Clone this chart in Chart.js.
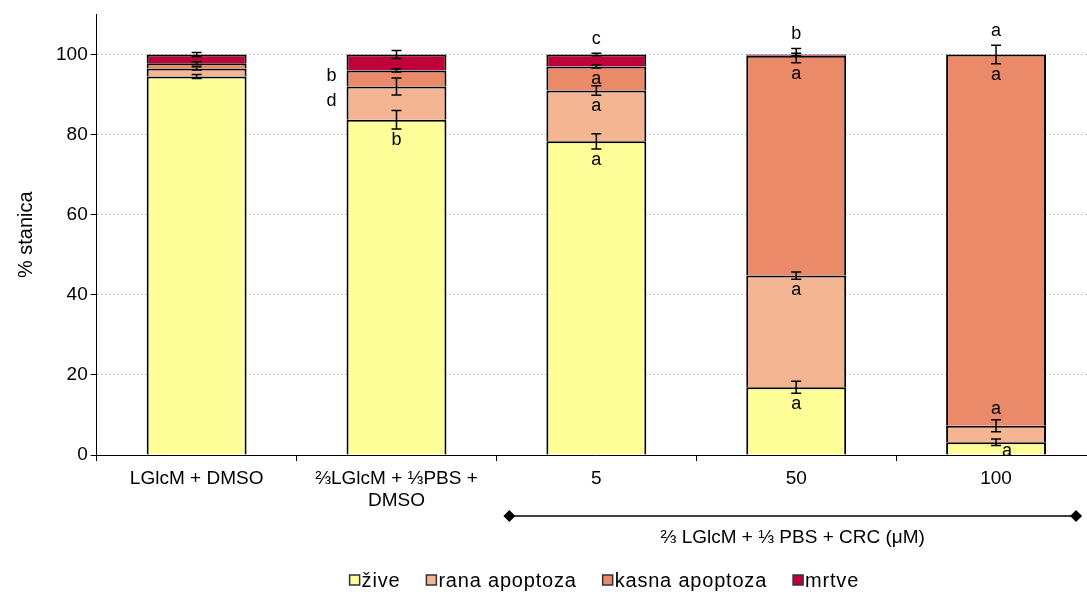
<!DOCTYPE html>
<html>
<head>
<meta charset="utf-8">
<script src="https://cdn.jsdelivr.net/npm/chart.js@4.4.1/dist/chart.umd.min.js"></script>
<style>
  html, body { margin: 0; padding: 0; background: #fff; overflow: hidden; }
  #wrap { width: 1087px; height: 592px; overflow: hidden; }
</style>
</head>
<body>
<div id="wrap"><canvas id="chart" width="1100" height="592"></canvas></div>
<script>
// categories and stacked values (% stanica)
const categories = ['LGlcM + DMSO', ['⅔LGlcM + ⅓PBS +', 'DMSO'], '5', '50', '100'];
const seriesNames = ['žive', 'rana apoptoza', 'kasna apoptoza', 'mrtve'];

const zive  = [94.5, 83.7, 78.3, 16.9, 3.2];
const rana  = [2.0, 8.3, 12.7, 27.9, 4.1];
const kasna = [1.3, 4.0, 6.0, 54.9, 92.7];
const mrtve = [2.2, 4.0, 3.0, 0.3, 0];

// error bars (drawn at the top of each segment)
const ziveErr  = [0.5, 2.3, 1.9, 1.5, 0.8];
const ranaErr  = [0.4, 2.1, 1.2, 0.9, 1.5];
const kasnaErr = [0.4, 0.4, 0.4, 1.8, 2.3];
const mrtveErr = [0.5, 1.0, 0.3, 0.3, 0];

// significance letters
const ziveLetters  = ['', 'b', 'a', 'a', 'a'];
const ranaLetters  = ['', 'd', 'a', 'a', 'a'];
const kasnaLetters = ['', 'b', 'a', 'a', 'a'];
const mrtveLetters = ['', '', 'c', 'b', 'a'];

const yTicks = [0, 20, 40, 60, 80, 100];
const groupLabel = '⅔ LGlcM + ⅓ PBS + CRC (μM)';

// where each letter sits relative to its segment
const letterPlace = [
    ['', 'below', 'below', 'below', 'right'],
    ['', 'left', 'below', 'below', 'above'],
    ['', 'left', 'below', 'below', 'below'],
    ['', '', 'above', 'above', 'above']
];

const values = [zive, rana, kasna, mrtve];
const errors = [ziveErr, ranaErr, kasnaErr, mrtveErr];
const letters = [ziveLetters, ranaLetters, kasnaLetters, mrtveLetters];
const colors = ['#FFFF99', '#F4B593', '#EA8A69', '#BF003B'];
const FONT = "'Liberation Sans', Arial, sans-serif";

function cum(k, i) {
    let s = 0;
    for (let j = 0; j <= k; j++) s += values[j][i];
    return s;
}

const overlay = {
    id: 'overlay',
    afterDatasetsDraw(chart) {
        const ctx = chart.ctx;
        const y = chart.scales.y;
        ctx.save();
        ctx.strokeStyle = '#000';
        ctx.lineWidth = 1.5;

        // error bars
        values.forEach((vals, k) => {
            const meta = chart.getDatasetMeta(k);
            meta.data.forEach((bar, i) => {
                const top = cum(k, i);
                const e = errors[k][i];
                if (e <= 0) return;
                const y1 = y.getPixelForValue(top - e);
                const y2 = y.getPixelForValue(top + e);
                const cx = bar.x;
                ctx.beginPath();
                ctx.moveTo(cx, y1); ctx.lineTo(cx, y2);
                ctx.moveTo(cx - 5, y1); ctx.lineTo(cx + 5, y1);
                ctx.moveTo(cx - 5, y2); ctx.lineTo(cx + 5, y2);
                ctx.stroke();
            });
        });

        // letters
        ctx.fillStyle = '#000';
        ctx.font = '18px ' + FONT;
        ctx.textBaseline = 'middle';
        const last = values.length - 1;
        values.forEach((vals, k) => {
            const meta = chart.getDatasetMeta(k);
            meta.data.forEach((bar, i) => {
                const txt = letters[k][i];
                if (!txt) return;
                const top = cum(k, i);
                const e = errors[k][i];
                const mode = letterPlace[k][i];
                let lx = bar.x, ly;
                ctx.textAlign = 'center';
                if (mode === 'below') {
                    ly = y.getPixelForValue(top - e) + 11;
                } else if (mode === 'above') {
                    let hi = top + e;
                    if (k === last) {
                        for (let j = 0; j <= last; j++) hi = Math.max(hi, cum(j, i) + errors[j][i]);
                        ly = y.getPixelForValue(hi) - 14;
                    } else {
                        ly = y.getPixelForValue(hi) - 11;
                    }
                } else if (mode === 'left') {
                    lx = bar.x - bar.width / 2 - 10;
                    ctx.textAlign = 'right';
                    ly = y.getPixelForValue(top - vals[i] / 2) - 2;
                } else {
                    lx = bar.x + 11;
                    ly = y.getPixelForValue(top - vals[i] / 2) + 2;
                }
                ctx.fillText(txt, lx, ly);
            });
        });
        ctx.restore();
    },
    afterDraw(chart) {
        const ctx = chart.ctx;
        const x = chart.scales.x;
        const base = chart.chartArea.bottom;

        // bracket under the CRC concentrations
        const x1 = x.getPixelForValue(2) - 87;
        const x2 = x.getPixelForValue(4) + 80;
        const ly = base + 61;
        ctx.save();
        ctx.strokeStyle = '#000';
        ctx.fillStyle = '#000';
        ctx.lineWidth = 1.5;
        ctx.beginPath();
        ctx.moveTo(x1, ly); ctx.lineTo(x2, ly);
        ctx.stroke();
        [x1, x2].forEach(px => {
            ctx.beginPath();
            ctx.moveTo(px - 6, ly); ctx.lineTo(px, ly - 6);
            ctx.lineTo(px + 6, ly); ctx.lineTo(px, ly + 6);
            ctx.closePath();
            ctx.fill();
        });
        ctx.font = '19px ' + FONT;
        ctx.textAlign = 'center';
        ctx.textBaseline = 'middle';
        ctx.fillText(groupLabel, (x1 + x2) / 2, base + 83);

        // legend: small boxes right against the text
        ctx.font = '20px ' + FONT;
        ctx.letterSpacing = '0.8px';
        ctx.textAlign = 'left';
        const box = 10, gap = 2, spacing = 26;
        const widths = seriesNames.map(n => ctx.measureText(n).width);
        let total = 0;
        widths.forEach((w, k) => { total += box + gap + w + (k < widths.length - 1 ? spacing : 0); });
        const center = (x.getPixelForValue(0) + x.getPixelForValue(4)) / 2 + 8;
        let lx = center - total / 2;
        const cy = base + 125;
        seriesNames.forEach((n, k) => {
            ctx.fillStyle = colors[k];
            ctx.fillRect(lx, cy - box / 2, box, box);
            ctx.strokeStyle = '#333';
            ctx.lineWidth = 1.5;
            ctx.strokeRect(lx, cy - box / 2, box, box);
            ctx.fillStyle = '#000';
            ctx.fillText(n, lx + box + gap, cy + 1);
            lx += box + gap + widths[k] + spacing;
        });
        ctx.restore();
    }
};

const ctx = document.getElementById('chart').getContext('2d');
new Chart(ctx, {
    type: 'bar',
    data: {
        labels: categories,
        datasets: values.map((vals, k) => ({
            label: seriesNames[k],
            data: vals,
            backgroundColor: colors[k],
            borderColor: '#000',
            borderWidth: 2,
            barPercentage: 0.5,
            categoryPercentage: 1.0
        }))
    },
    options: {
        responsive: false,
        animation: false,
        layout: { padding: { top: 11, left: 4, right: 4, bottom: 0 } },
        plugins: {
            legend: { display: false },
            tooltip: { enabled: false }
        },
        scales: {
            x: {
                stacked: true,
                grid: {
                    drawOnChartArea: false,
                    drawTicks: true,
                    tickLength: 6,
                    tickColor: '#000',
                    offset: true
                },
                border: { color: '#000', width: 1 },
                ticks: {
                    color: '#000',
                    padding: 6,
                    maxRotation: 0,
                    autoSkip: false,
                    font: { family: FONT, size: 19 }
                },
                afterFit(scale) { scale.height = 137; }
            },
            y: {
                stacked: true,
                min: 0,
                max: 110,
                afterBuildTicks(scale) {
                    scale.ticks = yTicks.map(v => ({ value: v }));
                },
                grid: {
                    color: ctx => ctx.tick && ctx.tick.value === 0 ? 'rgba(0,0,0,0)' : '#c4c4c4',
                    tickColor: '#000',
                    tickLength: 6
                },
                border: { color: '#000', width: 1, dash: [2, 2] },
                ticks: {
                    color: '#000',
                    padding: 3,
                    font: { family: FONT, size: 19 }
                },
                title: {
                    display: true,
                    text: '% stanica',
                    color: '#000',
                    font: { family: FONT, size: 20 },
                    padding: { top: 10, bottom: 15 }
                }
            }
        }
    },
    plugins: [overlay]
});
</script>
</body>
</html>
